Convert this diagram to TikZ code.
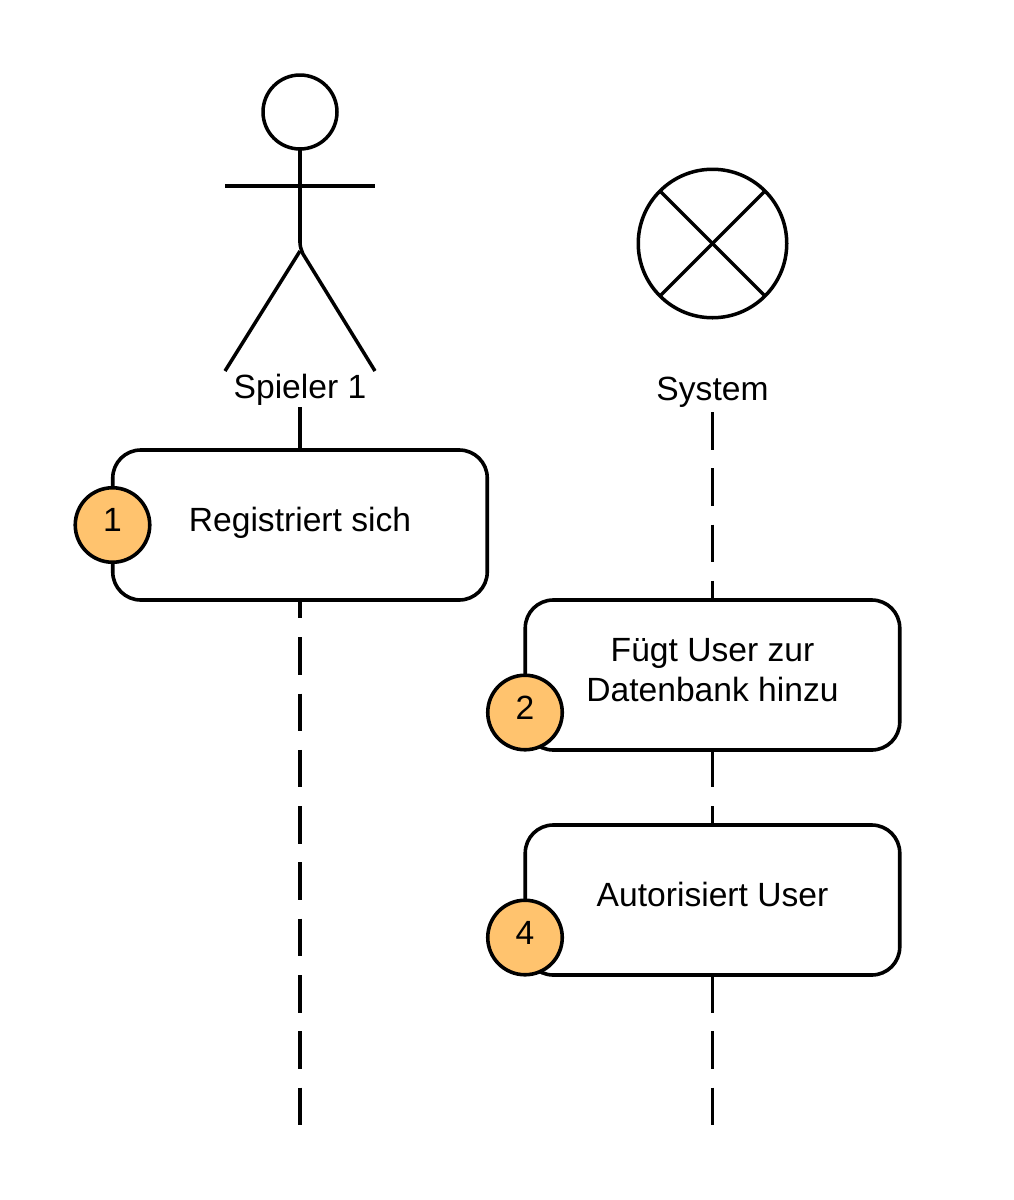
\documentclass[tikz,border=0pt]{standalone}
\usepackage{fontspec}
\setmainfont{Liberation Sans}
\definecolor{badge}{HTML}{FFC36E}
\tikzset{
  lifedash/.style={dash pattern=on 37.5pt off 18.8pt},
  stepbox/.style={draw=black,fill=white,line width=3.6pt,rounded corners=28pt,minimum width=374.5pt,minimum height=150pt,inner sep=0pt,outer sep=0pt},
  badgenode/.style={circle,draw=black,fill=badge,line width=3.6pt,minimum size=74.5pt,inner sep=0pt,outer sep=0pt},
  thin3/.style={line width=3.5pt},
  txt/.style={font=\fontsize{33.6pt}{40pt}\selectfont,inner sep=0pt,outer sep=0pt,anchor=base,align=center}
}
\begin{document}
\begin{tikzpicture}[x=1pt,y=-1pt]
\path[fill=white,use as bounding box] (0,0) rectangle (1013,1200);
% lifelines
\coordinate (pstub) at (300,407);
\coordinate (pdash) at (300,412);
\coordinate (pend) at (300,1125);
\coordinate (sdash) at (712.5,412);
\coordinate (send) at (712.5,1125);
\draw[line width=4pt] (pstub) -- (300,450);
\draw[line width=4pt,lifedash] (pdash) -- (pend);
\draw[line width=3pt,lifedash] (sdash) -- (send);
% actor
\node[circle,draw=black,fill=white,thin3,minimum size=74pt,inner sep=0pt,outer sep=0pt] (head) at (300,112) {};
\coordinate (armL) at (225,186);
\coordinate (armR) at (375,186);
\coordinate (hip) at (300,251);
\coordinate (footL) at (225,371);
\coordinate (footR) at (375,371);
\draw[line width=4pt] (head.south) -- (300,243);
\draw[thin3] (armL) -- (armR);
\draw[thin3] (300,241) .. controls (300,246) and (300.5,248) .. (303,254) -- (footR);
\draw[thin3] (hip) -- (footL);
\node[txt] (spieler) at (300,398.5) {Spieler 1};
% system
\node[circle,draw=black,fill=white,thin3,minimum size=148.5pt,inner sep=0pt,outer sep=0pt] (sys) at (712.5,243.5) {};
\draw[thin3] (sys.45) -- (sys.225);
\draw[thin3] (sys.135) -- (sys.315);
\node[txt] (system) at (712.5,400.5) {System};
% boxes
\node[stepbox] (b1) at (300,525) {};
\node[stepbox] (b2) at (712.5,675) {};
\node[stepbox] (b3) at (712.5,900) {};
\node[txt] (t1) at (300,531.5) {Registriert sich};
\node[txt] (t2a) at (712.5,661.5) {Fügt User zur};
\node[txt] (t2b) at (712.5,701.5) {Datenbank hinzu};
\node[txt] (t3) at (712.5,906.5) {Autorisiert User};
% badges
\node[badgenode] (c1) at (112.5,525) {};
\node[badgenode] (c2) at (525,712.5) {};
\node[badgenode] (c4) at (525,937.5) {};
\node[txt] (n1) at (112.5,531.5) {1};
\node[txt] (n2) at (525,719.5) {2};
\node[txt] (n4) at (525,944.5) {4};
\end{tikzpicture}
\end{document}
